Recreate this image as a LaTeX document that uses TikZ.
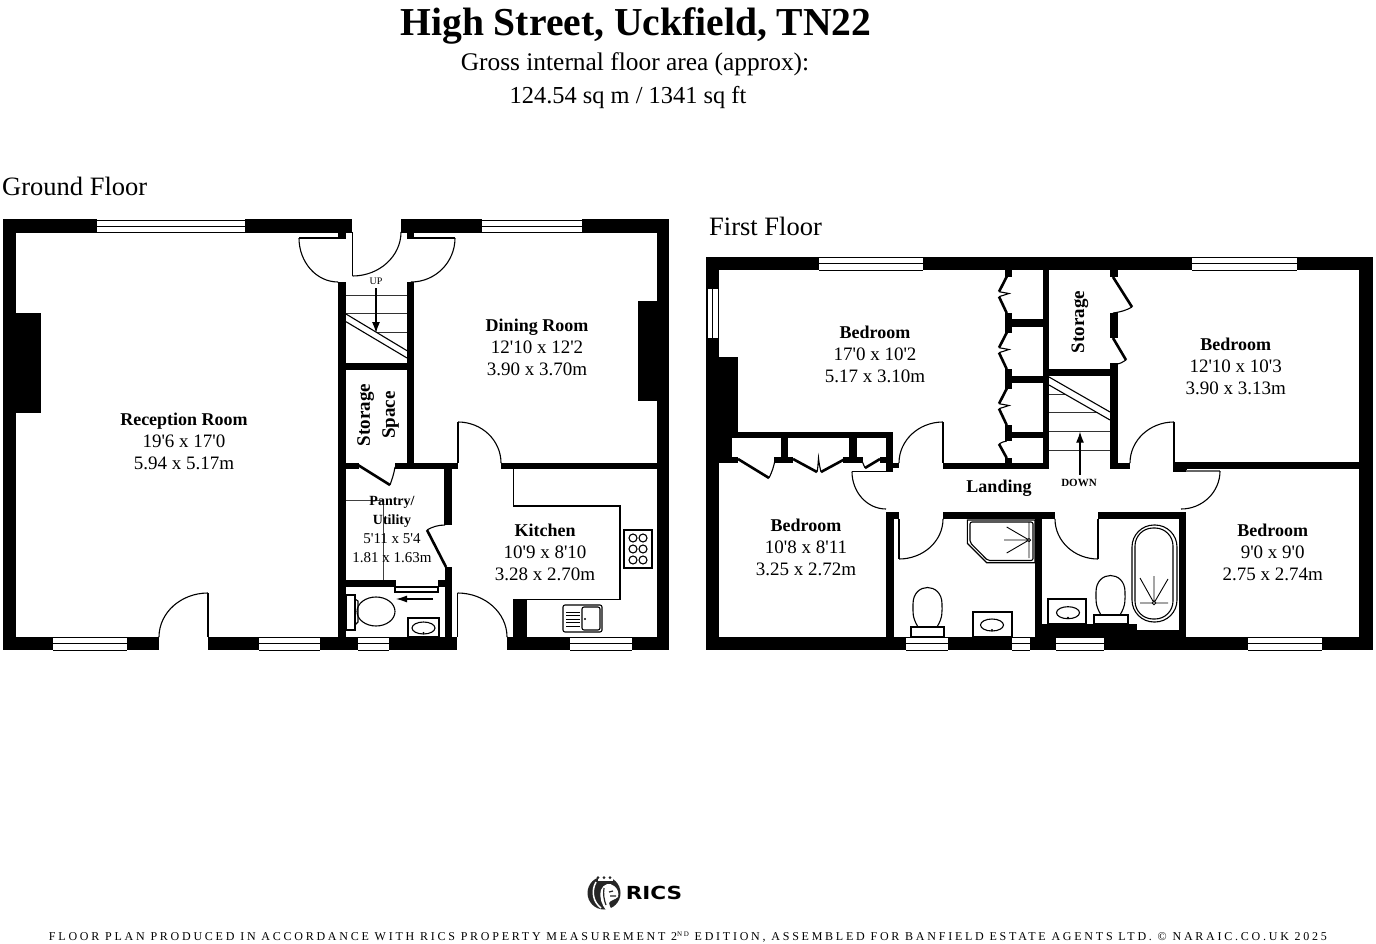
\documentclass[tikz,border=0pt]{standalone}
\usepackage{fontspec}
\usetikzlibrary{calc,arrows.meta}
\newfontfamily\rf{Liberation Serif}
\newfontfamily\ftf[LetterSpace=23]{Liberation Serif}
\newfontfamily\logof{DejaVu Sans}
\newcommand\fs[2]{\fontsize{#1}{#2}\selectfont}
\newcommand\rb[1]{{\bfseries\fs{18}{22}#1}}
\newcommand\rbs[1]{{\bfseries\fs{14}{19}#1}}
\newcommand\wall[4]{\fill[black] (#1,#2) rectangle (#3,#4);}
% horizontal window x1 y1 x2 y2
\newcommand\winh[4]{\fill[white] (#1,#2) rectangle (#3,#4);
  \draw[line width=1pt] (#1,#2+1) -- (#3,#2+1) (#1,{(#2+#4)/2}) -- (#3,{(#2+#4)/2}) (#1,#4) -- (#3,#4);}
% quarter arc A, corner C, B
\newcommand\qa[6]{\draw[thinl] (#1,#2) .. controls ($(#1,#2)!.5523!(#3,#4)$) and ($(#5,#6)!.5523!(#3,#4)$) .. (#5,#6);}
\newcommand\basin[6]{\draw[thinl,fill=white] (#1,#2) rectangle (#3,#4);
  \draw[thinl] (#5,#6) ellipse[x radius=11.5pt,y radius=6pt];
  \fill (#5,#6+5) circle[radius=1.1pt];}
\newcommand\egg[2]{\begin{scope}[shift={(#1,#2)}]
  \draw[thinl] (5,40) .. controls (-1,30) and (0,25) .. (0,17) .. controls (0,-5) and (29,-5) .. (29,17) .. controls (29,25) and (30,30) .. (24,40) -- cycle;
  \end{scope}}
\tikzset{
  thinl/.style={line width=1.1pt,black},
  leaf/.style={line width=2.6pt,black},
  tread/.style={line width=.9pt,black!80},
  room/.style={align=center,inner sep=0pt,font=\rf\fs{19}{22}},
  roomsm/.style={align=center,inner sep=0pt,font=\rf\fs{15}{19}},
  heading/.style={anchor=west,inner sep=0pt,font=\rf\fs{26.5}{28}},
  stairarrow/.style={line width=1.2pt,-{Latex[length=11pt,width=8pt]}}
}
\begin{document}
\begin{tikzpicture}[x=1pt,y=-1pt]
\useasboundingbox (0,0) rectangle (1376,944);
\fill[white] (0,0) rectangle (1376,944);
% ---------- headings
\node[inner sep=0pt,font=\rf\bfseries\fs{39.6}{44}] (title) at (636,25.5) {High Street, Uckfield, TN22};
\node[inner sep=0pt,font=\rf\fs{25.4}{28}] (sub1) at (635,64) {Gross internal floor area (approx):};
\node[inner sep=0pt,font=\rf\fs{24.4}{28}] (sub2) at (628,98) {124.54 sq m / 1341 sq ft};
\node[heading] (gf) at (2,186) {Ground Floor};
\node[heading] (ff) at (709,226) {First Floor};
% ---------- GROUND FLOOR walls
\wall{2.5}{219.5}{352}{232.7}
\wall{401}{219.5}{669}{232.7}
\wall{2.5}{219.5}{16}{650}
\wall{656.7}{219.5}{669}{650}
\wall{2.5}{636.7}{159}{650}
\wall{208}{636.7}{457}{650}
\wall{507}{636.7}{669}{650}
\wall{16}{312.7}{41}{413}
\wall{637.7}{300.7}{657}{400.7}
\wall{338}{232}{346}{239}
\wall{407}{232}{414}{239}
\wall{338}{282}{346}{637}
\wall{407}{282}{414}{464}
\wall{346}{363}{407}{370}
\wall{346}{462.7}{359}{469.3}
\wall{395}{462.7}{458}{469.3}
\wall{501}{462.7}{657}{469.3}
\wall{444}{463}{452}{525}
\wall{445}{567}{452}{637}
\wall{346}{580}{395}{587}
\wall{438}{580}{445}{587}
\wall{513}{599}{527}{637}
% windows
\winh{97}{219.5}{245}{232.7}
\winh{482}{219.5}{582}{232.7}
\winh{53}{636.7}{127}{650}
\winh{259}{636.7}{320}{650}
\winh{358}{636.7}{389}{650}
\winh{570}{636.7}{632}{650}
% doors
\draw[line width=1.8pt] (299,238) -- (338,238);
\qa{299}{238}{299}{282}{338}{282}
\draw[line width=1.8pt] (414,238) -- (455,238);
\qa{455}{238}{455}{282}{411}{282}
\draw[line width=1.8pt] (352.5,232) -- (352.5,276);
\qa{352.5}{276}{401}{276}{401}{232}
\draw[line width=2pt] (208,593) -- (208,637);
\qa{208}{593}{159}{593}{159}{637}
\draw[line width=1.8pt] (458,422) -- (458,463);
\qa{458}{422}{501}{422}{501}{463}
\draw[line width=1.8pt] (457.5,593) -- (457.5,637);
\qa{457.5}{593}{507}{593}{507}{637}
\draw[leaf] (358,465) -- (390,485);
\draw[thinl] (390,485) .. controls (392,479) and (394,474) .. (395,467);
\draw[leaf] (427,530) -- (446,567);
\draw[thinl] (427,530) .. controls (432,527) and (438,525) .. (445,525);
% stairs
\draw[tread] (346,295) -- (407,295) (346,313) -- (407,313) (376,332) -- (407,332);
\draw[thinl] (346,314) -- (407,350.7) (346,321.7) -- (407,358);
\draw[stairarrow] (376,288) -- (376,333);
\node[inner sep=0pt,font=\rf\fs{10}{12}] (up) at (376,281) {UP};
% pantry lines
\draw[line width=1pt,black!75] (346,500) -- (383,500) -- (383,580);
% sliding door
\draw[thinl] (395,580) -- (395,592) -- (438,592) -- (438,587);
\draw[thinl] (395,587) -- (438,587);
\draw[line width=1.2pt,-{Latex[length=11pt,width=7pt]}] (433,599) -- (396,599);
% ground wc
\draw[thinl] (346,595) rectangle (355,630);
\draw[thinl] (355,599) -- (358,601) -- (358,622) -- (355,625);
\draw[thinl] (376,611.5) ellipse[x radius=19pt,y radius=14.5pt];
\basin{408}{618}{439}{637}{423.5}{628}
% kitchen
\draw[thinl] (513.5,469) -- (513.5,506) -- (620,506) -- (620,599.5) -- (527,599.5);
\draw[thinl] (624,530) rectangle (652,568);
\foreach \cx in {633,643} \foreach \cy in {538,549,560} \draw[thinl] (\cx,\cy) circle[radius=4pt];
\draw[thinl,rounded corners=2pt] (563,605) rectangle (602,632);
\draw[thinl,rounded corners=2pt] (582,607) rectangle (600,630);
\foreach \ly in {612,615.5,619,622.5,626} \draw[line width=.8pt] (566,\ly) -- (580,\ly);
\fill (585,619) circle[radius=1.1pt];
% ground labels
\node[room] (reception) at (184,441) {\rb{Reception Room}\\19'6 x 17'0\\5.94 x 5.17m};
\node[room] (dining) at (537,347) {\rb{Dining Room}\\12'10 x 12'2\\3.90 x 3.70m};
\node[room] (kitchen) at (545,552) {\rb{Kitchen}\\10'9 x 8'10\\3.28 x 2.70m};
\node[roomsm] (pantry) at (392,529) {\rbs{Pantry/}\\\rbs{Utility}\\5'11 x 5'4\\1.81 x 1.63m};
\node[align=center,inner sep=0pt,rotate=90,font=\rf\bfseries\fs{19}{25}] (storagespace) at (378,415) {Storage\\Space};
% ---------- FIRST FLOOR walls
\wall{706}{256.7}{1372.7}{270}
\wall{706}{636.7}{1372.7}{650}
\wall{706}{256.7}{719.3}{650}
\wall{1359.3}{256.7}{1372.7}{650}
\wall{719}{356.7}{738}{431.7}
\wall{719}{431.7}{893}{438}
\wall{719}{431.7}{732}{463}
\wall{719}{456.7}{738}{462.7}
\wall{774}{456.7}{793}{462.7}
\wall{843}{456.7}{863}{462.7}
\wall{880}{456.7}{886}{462.7}
\wall{781}{438}{788}{457}
\wall{849}{438}{857}{457}
\wall{886}{438}{893}{471.7}
\wall{893}{463}{899}{468}
% wardrobes right
\wall{1042.7}{270}{1049}{469}
\wall{1005}{319}{1043}{326.7}
\wall{1005}{375.7}{1043}{383}
\wall{1005}{431.7}{1043}{438.3}
\wall{1005}{270}{1012}{276.7}
\wall{1005}{312.7}{1012}{332.7}
\wall{1005}{369}{1012}{389}
\wall{1005}{425}{1012}{440.7}
\wall{1005}{458}{1012}{463}
% landing
\wall{943}{462.7}{1049}{469}
\wall{1110}{462.7}{1130}{469}
\wall{1173}{462.3}{1359.3}{469}
\wall{1173}{467}{1187}{472}
\wall{886}{512}{899}{519}
\wall{943}{512}{1055}{519}
\wall{1098}{512}{1186}{519}
\wall{886}{512}{893.7}{637}
\wall{1035}{519}{1042}{637}
\wall{1179}{512}{1186}{637}
\wall{1042}{624}{1137}{637}
\wall{1137}{630}{1179}{637}
% storage
\wall{1049}{369}{1117}{376}
\wall{1110}{270}{1117.7}{277}
\wall{1110}{313}{1117.7}{338}
\wall{1110}{363}{1117.7}{463}
% first windows
\winh{819}{256.7}{923}{270}
\winh{1192}{256.7}{1297}{270}
\winh{906}{636.7}{948}{650}
\winh{1012}{636.7}{1030}{650}
\winh{1056}{636.7}{1104}{650}
\winh{1248}{636.7}{1322}{650}
\fill[white] (707,289) rectangle (718,337.7);
\draw[line width=1pt] (707,289) -- (707,337.7) (712.5,289) -- (712.5,337.7) (718,289) -- (718,337.7);
% bed doors
\draw[line width=2pt] (943,422) -- (943,463);
\qa{943}{422}{899}{422}{899}{463}
\draw[line width=2pt] (1174,422) -- (1174,463);
\qa{1174}{422}{1130}{422}{1130}{463}
\draw[line width=2pt] (899,519) -- (899,559);
\qa{899}{559}{943}{559}{943}{519}
\draw[line width=2pt] (1098,519) -- (1098,559);
\qa{1098}{559}{1055}{559}{1055}{519}
\draw[thinl] (852,471.7) -- (886,471.7);
\qa{852}{471.7}{852}{509}{886}{509}
\draw[line width=1.2pt,black!60] (1186,471) -- (1220,471);
\qa{1220}{471}{1220}{509}{1181}{509}
% wardrobe doors lower-left
\draw[leaf] (738,459) -- (769,478);
\draw[thinl] (769,478) .. controls (772,472) and (774,466) .. (775,460);
\draw[leaf] (793,459) -- (817,472);
\draw[leaf] (845,459) -- (821,472);
\draw[thinl] (817,472) .. controls (818,468) and (818,463) .. (818.5,458) .. controls (819,463) and (820,468) .. (821,472);
\draw[leaf] (880,459) -- (865,468);
\draw[thinl] (865,468) .. controls (864,466) and (863,463) .. (862,461);
% wardrobe bifolds right
\foreach \oy in {0,56,112} {
  \draw[leaf] (1006.7,276.7+\oy) -- (999,291.7+\oy);
  \draw[leaf] (999,296.7+\oy) -- (1006.7,313+\oy);
  \draw[thinl] (999,291.7+\oy) -- (1009,293.5+\oy) -- (999,296.7+\oy);
}
\draw[thinl] (1006.7,441) .. controls (1004,441.5) and (1001,442.5) .. (999,444);
\draw[leaf] (999,444) -- (1006.7,458);
% storage doors
\draw[leaf] (1113,277) -- (1132,307);
\draw[thinl] (1132,307) .. controls (1127,310) and (1121,312) .. (1113,313);
\draw[leaf] (1113,338) -- (1126,360);
\draw[thinl] (1126,360) .. controls (1123,362) and (1120,364) .. (1116,364);
% first stairs
\draw[tread] (1049,394) -- (1065,394) (1049,412.7) -- (1098,412.7) (1049,431.7) -- (1110,431.7) (1049,450) -- (1110,450);
\draw[thinl] (1049,377) -- (1110,412) (1049,385) -- (1110,420);
\draw[stairarrow] (1080,475) -- (1080,431.7);
\node[inner sep=0pt,font=\rf\bfseries\fs{11}{13}] (down) at (1079,483) {DOWN};
% shower room
\draw[thinl] (967.3,520) -- (1035,520) -- (1035,562.7) -- (986.7,562.7) -- (967.3,543.3) -- cycle;
\draw[thinl,rounded corners=2pt] (970,522) -- (1033,522) -- (1033,560.5) -- (987.7,560.5) -- (970,542.5) -- cycle;
\draw[line width=.9pt] (1029,522) -- (1029,558) (1029,540) -- (1006.7,527) (1029,540) -- (1004,540) (1029,540) -- (1006.7,553);
\draw[line width=.9pt,fill=white] (1029,540) circle[radius=1.6pt];
\egg{913}{587}
\draw[thinl] (911,627) rectangle (944,637);
\basin{973}{612}{1012}{637}{992}{625}
% bathroom
\egg{1096}{575}
\draw[thinl] (1094,615) rectangle (1128,624);
\basin{1048}{599}{1086}{624}{1068}{612.7}
\draw[thinl,rounded corners=22pt] (1132,525) rectangle (1177,622);
\draw[thinl,rounded corners=18pt] (1135,528) rectangle (1173,619);
\draw[line width=.9pt] (1154,603) -- (1154,576) (1154,603) -- (1140,578) (1154,603) -- (1168,579) (1140,603) -- (1168,603);
\draw[line width=.9pt,fill=white] (1154,603) circle[radius=1.8pt];
% first labels
\node[room] (bed1) at (875,354) {\rb{Bedroom}\\17'0 x 10'2\\5.17 x 3.10m};
\node[room] (bed2) at (806,547) {\rb{Bedroom}\\10'8 x 8'11\\3.25 x 2.72m};
\node[room] (bed3) at (1235.7,366) {\rb{Bedroom}\\12'10 x 10'3\\3.90 x 3.13m};
\node[room] (bed4) at (1272.7,552) {\rb{Bedroom}\\9'0 x 9'0\\2.75 x 2.74m};
\node[inner sep=0pt,font=\rf\bfseries\fs{18}{22}] (landing) at (999,488) {Landing};
\node[inner sep=0pt,rotate=90,font=\rf\bfseries\fs{19}{22}] (storage) at (1080,322) {Storage};
% ---------- logo (lion emblem)
\fill[black!85] (604,893) circle[radius=16.5pt];
\fill[white] (598,874) rectangle (613,881);
\foreach \dx in {598,604,610} \fill[black!85] (\dx,877.5) circle[radius=1.5pt];
\fill[white] (606,910) .. controls (602,905) and (599,898) .. (601,890) .. controls (603,884) and (610,882) .. (614,886) .. controls (618,889) and (619,893) .. (618,897) .. controls (615,900) and (610,900) .. (609,903) .. controls (609,906) and (611,908) .. (612,910) -- cycle;
\draw[white,line width=1.5pt] (596,882) .. controls (591,891) and (593,902) .. (601,908);
\draw[black!85,line width=1.2pt] (604,888) .. controls (603,894) and (604,900) .. (606,905) (609,892) -- (613,891) (610,896) -- (616,896);
\node[inner sep=0pt,font=\logof\bfseries\fs{18}{20},xscale=1.2,transform shape] (rics) at (654,893) {RICS};
% ---------- footer
\node[inner sep=0pt,font=\ftf\fs{12}{14}] (footer) at (688,937) {FLOOR PLAN PRODUCED IN ACCORDANCE WITH RICS PROPERTY MEASUREMENT 2\raisebox{4pt}{\fs{7}{8}ND} EDITION, ASSEMBLED FOR BANFIELD ESTATE AGENTS LTD. © NARAIC.CO.UK 2025};
\end{tikzpicture}
\end{document}
